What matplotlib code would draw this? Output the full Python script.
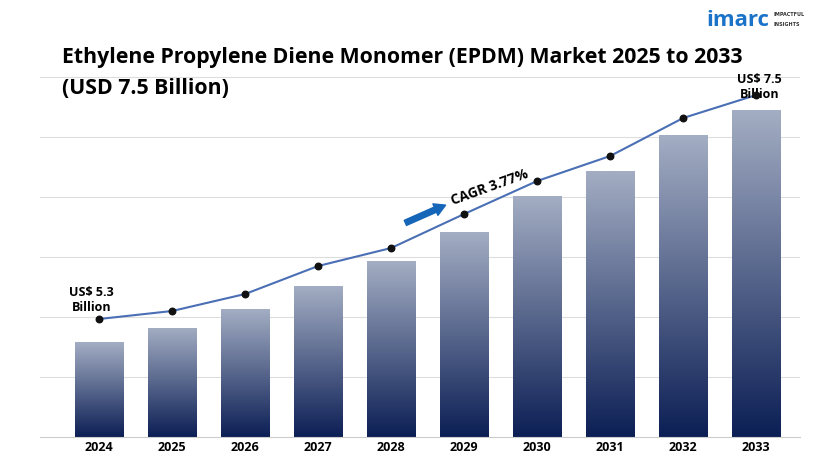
import matplotlib
matplotlib.use("Agg")
import matplotlib.pyplot as plt
import numpy as np
from matplotlib.colors import LinearSegmentedColormap

years = ["2024","2025","2026","2027","2028","2029","2030","2031","2032","2033"]
bar_vals = [95,109,128,151,176,205,241,266,302,327]
line_vals = [118,126,143,171,189,223,256,281,319,342]

fig = plt.figure(figsize=(8.24,4.61), dpi=100)
ax = fig.add_axes([40/824, 1-437/461, 760/824, 390/461])
for s in ax.spines.values(): s.set_visible(False)
ax.spines['bottom'].set_visible(True); ax.spines['bottom'].set_color('#cccccc')
ax.set_yticks([60,120,180,240,300,360]); ax.set_yticklabels([])
ax.tick_params(axis='y', length=0)
ax.grid(axis='y', color='#dddddd', lw=0.8); ax.set_axisbelow(True)
x = np.arange(len(years))
ax.set_xticks(x); ax.set_xticklabels(years, fontweight='bold', fontsize=9, fontfamily='Open Sans')
ax.tick_params(axis='x', length=0, pad=3)
cmap = LinearSegmentedColormap.from_list('g', ['#0c1f55', '#a3adc3'])
grad = np.linspace(0,1,256).reshape(-1,1)
w = 0.66
for xi, v in zip(x, bar_vals):
    im = ax.imshow(grad, cmap=cmap, aspect='auto', origin='lower',
                   extent=[xi-w/2, xi+w/2, 0, v], zorder=2)
    r = plt.Rectangle((xi-w/2,0), w, v, transform=ax.transData)
    im.set_clip_path(r)
ax.set_xlim(-0.81, 9.6); ax.set_ylim(0, 390)
ax.plot(x, line_vals, color='#4a6fb5', lw=1.5, zorder=3)
ax.scatter(x, line_vals, color='#111111', s=22, zorder=4)
ax.text(-0.1, 123, "US$ 5.3\nBillion", fontsize=9, fontweight='bold', ha='center', va='bottom', fontfamily='Open Sans', linespacing=1.2)
ax.text(9.05, 336, "US$ 7.5\nBillion", fontsize=9, fontweight='bold', ha='center', va='bottom', fontfamily='Open Sans', linespacing=1.2)
ax.annotate('', xy=(4.78, 233), xytext=(4.16, 213),
            arrowprops=dict(arrowstyle='simple,head_width=0.9,head_length=0.8,tail_width=0.4', color='#1565b8'))
ax.text(4.8, 250, "CAGR 3.77%", fontsize=10, fontweight='bold', rotation=20, ha='left', va='center', fontfamily='Open Sans')
fig.text(62/824, 1-58/461, "Ethylene Propylene Diene Monomer (EPDM) Market 2025 to 2033",
         fontsize=15.3, fontweight='bold', fontfamily='Open Sans', va='center')
fig.text(62/824, 1-88/461, "(USD 7.5 Billion)", fontsize=15.3, fontweight='bold', fontfamily='Open Sans', va='center')
fig.text(706/824, 1-20/461, "imarc", fontsize=16, fontweight='bold', color='#1a73c9', fontfamily='Open Sans', va='center')
fig.text(774/824, 1-15/461, "IMPACTFUL", fontsize=3.5, fontweight='bold', color='#333333', va='center')
fig.text(774/824, 1-24/461, "INSIGHTS", fontsize=3.5, fontweight='bold', color='#333333', va='center')
fig.savefig("out.png", dpi=100)
